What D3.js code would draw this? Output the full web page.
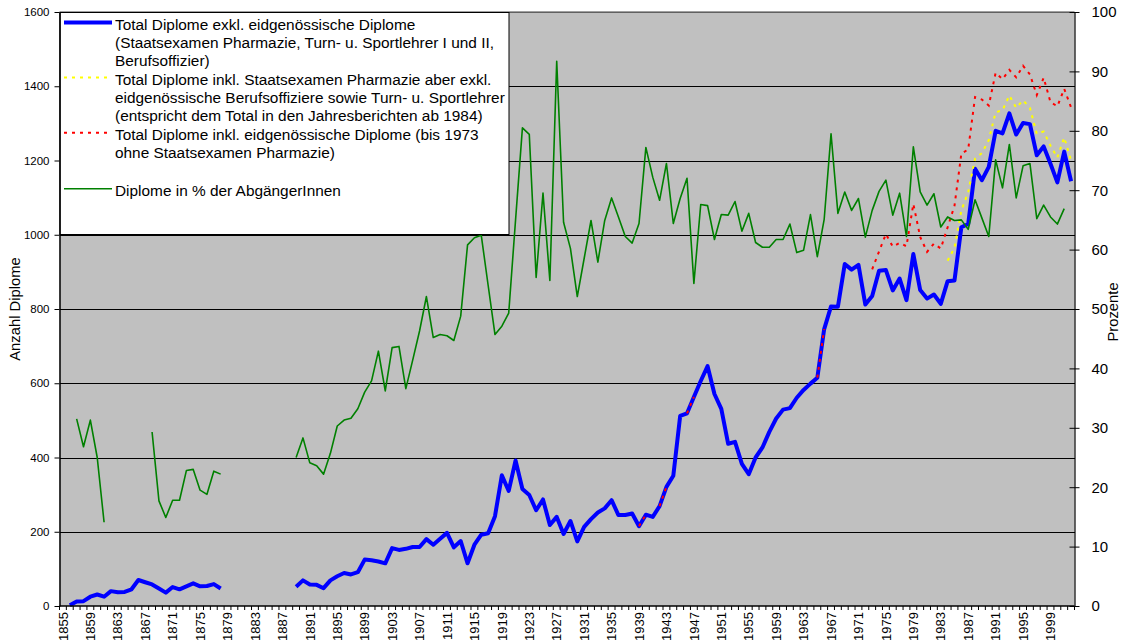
<!DOCTYPE html>
<html>
<head>
<meta charset="utf-8">
<script src="https://cdn.jsdelivr.net/npm/d3@7"></script>
<style>
  body { margin: 0; background: #fff; }
  svg { display: block; font-family: "Liberation Sans", Arial, sans-serif; }
</style>
</head>
<body>
<script>
// Kategorien (Jahre)
const firstYear = 1855;
const lastYear = 2002;
const years = d3.range(firstYear, lastYear + 1);
const labelYears = years.filter(y => (y - firstYear) % 4 === 0);

// Total Diplome exkl. eidg. Diplome, ab 1856
const blueStart = 1856;
const blueValues = [
  2, 12, 13, 25, 31, 25, 40, 37, 38, 45, 70, 64, 58, 47, 36, 51, 45, 53, 61, 53, 54, 59, 47,
  null, null, null, null, null, null, null, null, null, null,
  52, 69, 58, 57, 48, 69, 80, 89, 85, 91,
  125, 123, 120, 115, 156, 151, 154, 159, 159, 180,
  165, 181, 197, 158, 175, 115, 165, 192, 196, 242,
  352, 310, 392, 315, 299, 258, 287, 218, 240, 194,
  229, 174, 213, 234, 252, 263, 285, 245, 245, 249,
  215, 246, 240, 269, 321, 351, 512, 519, 563, 606,
  646, 571, 531, 437, 442, 383, 355, 400, 427, 469,
  505, 529, 533, 561, 582, 599, 615, 746, 807, 806,
  921, 906, 919, 812, 835, 903, 905, 850, 882, 824,
  948, 851, 828, 839, 814, 875, 877, 1020, 1029, 1178,
  1147, 1183, 1280, 1273, 1327, 1270, 1301, 1298, 1214, 1238,
  1191, 1141, 1224, 1144
];

// Total inkl. Staatsexamen Pharmazie (Jahresberichte), ab 1984
const yellowStart = 1984;
const yellowValues = [
  930, 965, 1065, 1115, 1205, 1220, 1255, 1330, 1335, 1375,
  1342, 1362, 1342, 1272, 1278, 1240, 1208, 1262, 1200
];

// Total inkl. eidg. Diplome, ab 1939 (mit Luecken)
const redStart = 1939;
const redValues = [
  215, 246, null, 269, 321, null, null, 519, 563, null,
  null, null, null, null, null, null, null, null, null, null,
  null, null, null, null, null, null, 615, 746, null, null,
  null, null, null, null,
  907, 955, 1002, 968, 978, 969, 1083, 994, 954, 976,
  963, 1020, 1078, 1218, 1230, 1371, 1364, 1348, 1436, 1419,
  1444, 1424, 1455, 1432, 1376, 1423, 1357, 1346, 1393, 1343
];

// Diplome in % der AbgaengerInnen, ab 1857
const greenStart = 1857;
const greenValues = [
  31.5, 26.8, 31.3, 25.0, 14.1,
  null, null, null, null, null, null,
  29.3, 17.7, 14.9, 17.8, 17.8, 22.8, 23.0, 19.5, 18.8, 22.7, 22.2,
  null, null, null, null, null, null, null, null, null, null,
  25.0, 28.3, 24.1, 23.6, 22.2, 25.7, 30.3, 31.3, 31.6, 33.2,
  36.0, 37.9, 42.9, 36.2, 43.5, 43.7, 36.6, 41.4, 46.3, 52.1,
  45.2, 45.7, 45.5, 44.7, 48.8, 60.8, 62.0, 62.4, 54.0, 45.7,
  47.1, 49.3, 65.0, 80.5, 79.4, 55.3, 69.5, 54.8, 91.7, 64.6,
  60.2, 52.1, 58.5, 64.9, 57.9, 64.9, 68.7, 65.5, 62.2, 61.1,
  64.4, 77.2, 72.2, 68.3, 74.5, 64.4, 68.6, 72.0, 54.3, 67.6,
  67.4, 61.7, 65.9, 65.8, 68.1, 63.1, 66.1, 61.2, 60.4, 60.4,
  61.7, 61.7, 64.3, 59.5, 59.9, 65.9, 58.8, 65.1, 79.5, 66.1,
  69.7, 66.6, 68.6, 62.1, 66.6, 69.8, 71.7, 65.8, 69.5, 62.2,
  77.3, 69.7, 67.5, 69.4, 63.8, 65.5, 64.9, 65.0, 63.4, 68.4,
  65.3, 62.2, 75.1, 70.4, 77.7, 68.7, 74.1, 74.5, 65.2, 67.5,
  65.5, 64.3, 66.9
];

const leftTicks = [0, 200, 400, 600, 800, 1000, 1200, 1400, 1600];
const rightTicks = [0, 10, 20, 30, 40, 50, 60, 70, 80, 90, 100];

const legendItems = [
  {lines: ["Total Diplome exkl. eidgenössische Diplome",
           "(Staatsexamen Pharmazie, Turn- u. Sportlehrer I und II,",
           "Berufsoffizier)"], color: "#0000ff", width: 4, dash: null, top: 24},
  {lines: ["Total Diplome inkl. Staatsexamen Pharmazie aber exkl.",
           "eidgenössische Berufsoffiziere sowie Turn- u. Sportlehrer",
           "(entspricht dem Total in den Jahresberichten ab 1984)"], color: "#ffff00", width: 2, dash: "3,5", top: 79},
  {lines: ["Total Diplome inkl. eidgenössische Diplome (bis 1973",
           "ohne Staatsexamen Pharmazie)"], color: "#ff0000", width: 2, dash: "3,5", top: 134.3},
  {lines: ["Diplome in % der AbgängerInnen"], color: "#008000", width: 1.6, dash: null, top: 190.3}
];

const W = 1125, H = 644;
const plot = {left: 59.5, right: 1074.5, top: 12, bottom: 606};

const svg = d3.select("body").append("svg")
  .attr("width", W)
  .attr("height", H);

const x = d3.scaleBand()
  .domain(years)
  .range([plot.left, plot.right])
  .padding(0);
const cx = yr => x(yr) + x.bandwidth() / 2;

const yL = d3.scaleLinear().domain([0, 1600]).range([plot.bottom, plot.top]);
const yR = d3.scaleLinear().domain([0, 100]).range([plot.bottom, plot.top]);

// Hintergrund
svg.append("rect")
  .attr("x", plot.left).attr("y", plot.top)
  .attr("width", plot.right - plot.left).attr("height", plot.bottom - plot.top)
  .attr("fill", "#c0c0c0");

// Gitterlinien
svg.append("g")
  .attr("transform", `translate(${plot.left},0)`)
  .call(d3.axisLeft(yL).tickValues(leftTicks.slice(1)).tickSize(-(plot.right - plot.left)).tickFormat(""))
  .call(g => g.select(".domain").remove())
  .call(g => g.selectAll(".tick line").attr("stroke", "#000").attr("stroke-width", 1).attr("shape-rendering", "crispEdges"));

// obere Rahmenlinie
svg.append("line")
  .attr("x1", plot.left).attr("x2", plot.right)
  .attr("y1", plot.top).attr("y2", plot.top)
  .attr("stroke", "#808080").attr("stroke-width", 1.5);

// Datenreihen
const toPoints = (start, values) => values.map((v, i) => ({year: start + i, v}));

const lineL = d3.line()
  .defined(d => d.v != null)
  .x(d => cx(d.year))
  .y(d => yL(d.v));

const lineR = d3.line()
  .defined(d => d.v != null)
  .x(d => cx(d.year))
  .y(d => yR(d.v));

svg.append("path")
  .datum(toPoints(blueStart, blueValues))
  .attr("d", lineL)
  .attr("fill", "none")
  .attr("stroke", "#0000ff")
  .attr("stroke-width", 4)
  .attr("stroke-linejoin", "round");

svg.append("path")
  .datum(toPoints(yellowStart, yellowValues))
  .attr("d", lineL)
  .attr("fill", "none")
  .attr("stroke", "#ffff00")
  .attr("stroke-width", 2)
  .attr("stroke-dasharray", "3,5");

svg.append("path")
  .datum(toPoints(redStart, redValues))
  .attr("d", lineL)
  .attr("fill", "none")
  .attr("stroke", "#ff0000")
  .attr("stroke-width", 2)
  .attr("stroke-dasharray", "3,5");

svg.append("path")
  .datum(toPoints(greenStart, greenValues))
  .attr("d", lineR)
  .attr("fill", "none")
  .attr("stroke", "#008000")
  .attr("stroke-width", 1.6)
  .attr("stroke-linejoin", "round");

// Legende
const legend = svg.append("g");
legend.append("rect")
  .attr("x", plot.left + 0.5).attr("y", plot.top + 0.5)
  .attr("width", 449).attr("height", 222)
  .attr("fill", "#fff")
  .attr("stroke", "#000")
  .attr("stroke-width", 1);

legendItems.forEach(item => {
  legend.append("line")
    .attr("x1", 64).attr("x2", 112)
    .attr("y1", item.top - 1.5).attr("y2", item.top - 1.5)
    .attr("stroke", item.color)
    .attr("stroke-width", item.width)
    .attr("stroke-dasharray", item.dash);
  item.lines.forEach((t, i) => {
    legend.append("text")
      .attr("x", 115)
      .attr("y", item.top + i * 18)
      .attr("dy", "0.36em")
      .style("font-size", "15.4px")
      .attr("fill", "#000")
      .text(t);
  });
});

// linke Achse
svg.append("g")
  .attr("transform", `translate(${plot.left},0)`)
  .call(d3.axisLeft(yL).tickValues(leftTicks).tickFormat(d3.format("d")).tickSize(5).tickPadding(5).tickSizeOuter(0))
  .call(g => g.select(".domain").attr("stroke", "#000").attr("stroke-width", 1.5))
  .call(g => g.selectAll(".tick text").style("font-size", "11.5px").attr("fill", "#000"));

// rechte Achse
svg.append("g")
  .attr("transform", `translate(${plot.right},0)`)
  .call(d3.axisRight(yR).tickValues(rightTicks).tickSize(5).tickPadding(12).tickSizeOuter(0))
  .call(g => g.select(".domain").attr("stroke", "#000").attr("stroke-width", 1.2))
  .call(g => g.selectAll(".tick line").attr("x1", -5).attr("x2", 5))
  .call(g => g.selectAll(".tick text").style("font-size", "15px").attr("fill", "#000"));

// x-Achse
const xAxisG = svg.append("g")
  .attr("transform", `translate(0,${plot.bottom})`);
xAxisG.append("line")
  .attr("x1", plot.left).attr("x2", plot.right)
  .attr("stroke", "#000").attr("stroke-width", 1.5);
xAxisG.selectAll(".yt")
  .data(years.concat([lastYear + 1]))
  .join("line")
  .attr("class", "yt")
  .attr("x1", d => d <= lastYear ? x(d) : plot.right)
  .attr("x2", d => d <= lastYear ? x(d) : plot.right)
  .attr("y1", 0).attr("y2", 4)
  .attr("stroke", "#000").attr("stroke-width", 1);
xAxisG.selectAll(".yl")
  .data(labelYears)
  .join("text")
  .attr("class", "yl")
  .attr("transform", d => `translate(${cx(d)},6) rotate(-90)`)
  .attr("text-anchor", "end")
  .attr("dy", "0.36em")
  .style("font-size", "13px")
  .attr("fill", "#000")
  .text(d => d);

// Achsentitel
svg.append("text")
  .attr("transform", `translate(15,309) rotate(-90)`)
  .attr("text-anchor", "middle")
  .attr("dy", "0.36em")
  .style("font-size", "14.8px")
  .text("Anzahl Diplome");

svg.append("text")
  .attr("transform", `translate(1113,312) rotate(-90)`)
  .attr("text-anchor", "middle")
  .attr("dy", "0.36em")
  .style("font-size", "14.8px")
  .text("Prozente");
</script>
</body>
</html>
